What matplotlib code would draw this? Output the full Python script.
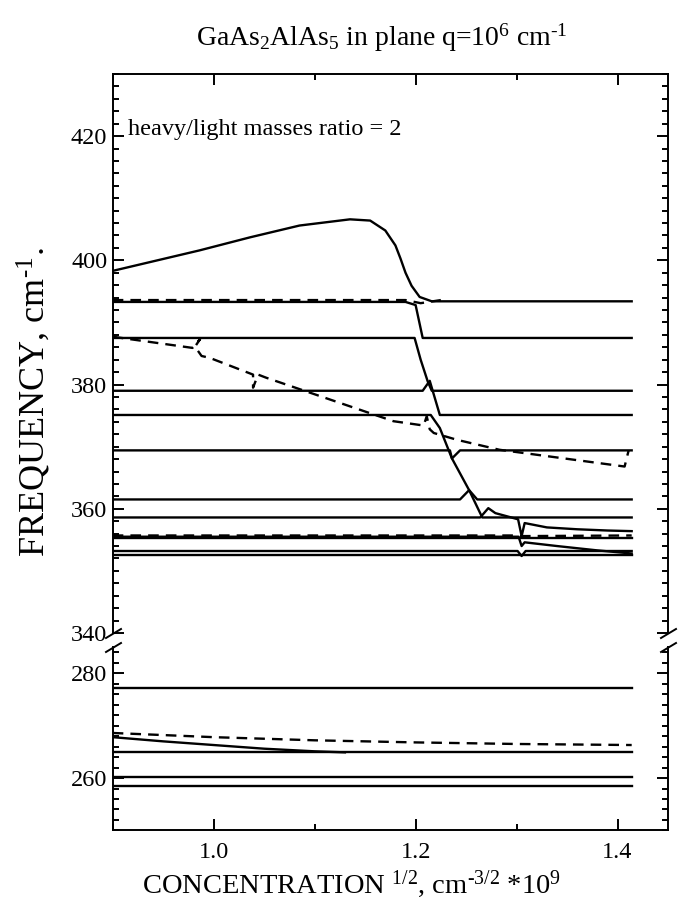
import matplotlib
matplotlib.use("Agg")
import matplotlib.pyplot as plt
import numpy as np

plt.rcParams['font.family'] = ['Liberation Serif', 'DejaVu Serif']
plt.rcParams['mathtext.fontset'] = 'custom'
plt.rcParams['mathtext.rm'] = 'Liberation Serif'
plt.rcParams['mathtext.it'] = 'Liberation Serif:italic'

# ---- data (x = sqrt(concentration)*1e-9, y = frequency, cm^-1)
x_end = 1.414

# upper panel, solid branches
s0_x = [0.9, 0.986, 1.036, 1.085, 1.135, 1.155, 1.17, 1.18, 1.185, 1.19, 1.196, 1.204, 1.216, x_end]
s0_y = [398.3, 401.6, 403.7, 405.6, 406.6, 406.4, 404.8, 402.4, 400.3, 398.0, 395.9, 394.1, 393.4, 393.4]
s1_x = [0.9, 1.19, 1.2, 1.207, x_end]
s1_y = [393.3, 393.3, 392.8, 387.5, 387.5]
s2_x = [0.9, 1.199, 1.205, 1.212, 1.216, x_end]
s2_y = [387.5, 387.5, 384.0, 380.5, 379.0, 379.0]
s3_x = [0.9, 1.207, 1.214, 1.224, x_end]
s3_y = [379.0, 379.0, 380.6, 375.1, 375.1]
s4_x = [0.9, 1.215, 1.224, 1.236, 1.244, x_end]
s4_y = [375.1, 375.1, 373.0, 368.1, 369.4, 369.4]
s5_x = [0.9, 1.234, 1.236, 1.253, 1.261, x_end]
s5_y = [369.4, 369.4, 368.1, 363.0, 361.5, 361.5]
s6_x = [0.9, 1.244, 1.253, 1.266, x_end]
s6_y = [361.5, 361.5, 363.0, 358.6, 358.6]
s7_x = [0.9, 1.264, 1.272, 1.279, 1.3015, 1.305, 1.308, 1.33, 1.36, 1.39, x_end]
s7_y = [358.6, 358.6, 360.1, 359.3, 358.3, 355.6, 357.7, 357.0, 356.7, 356.5, 356.4]
s8_x = [0.9, 1.302, 1.305, 1.308, 1.34, 1.38, x_end]
s8_y = [355.5, 355.5, 354.0, 354.6, 354.0, 353.3, 352.8]
s9_x = [0.9, x_end]
s9_y = [355.3, 355.3]
s10_x = [0.9, 1.301, 1.305, 1.309, x_end]
s10_y = [353.2, 353.2, 352.4, 353.2, 353.2]
s11_x = [0.9, x_end]
s11_y = [352.6, 352.6]
upper_solid = [(s0_x, s0_y), (s1_x, s1_y), (s2_x, s2_y), (s3_x, s3_y), (s4_x, s4_y),
               (s5_x, s5_y), (s6_x, s6_y), (s7_x, s7_y), (s8_x, s8_y), (s9_x, s9_y),
               (s10_x, s10_y), (s11_x, s11_y)]

# upper panel, dashed branches
d1_x = [0.9, 1.19, 1.205, 1.225]
d1_y = [393.6, 393.6, 393.1, 393.6]
d2_x = [0.9, 0.979, 0.9865, 0.9815, 0.988, 0.996, 1.039, 1.039, 1.044, 1.052, 1.178,
        1.208, 1.211, 1.214, 1.218, 1.241, 1.283, 1.407, 1.411]
d2_y = [387.7, 385.9, 387.3, 386.1, 384.6, 384.3, 381.6, 379.5, 381.6, 381.1, 374.1,
        373.4, 374.9, 372.8, 372.2, 371.1, 369.5, 366.8, 369.4]
d3_x = [0.9, 1.302, 1.306, x_end]
d3_y = [355.7, 355.7, 355.6, 355.7]
upper_dashed = [(d1_x, d1_y), (d2_x, d2_y), (d3_x, d3_y)]

# lower panel
b_line_x = [0.9, x_end]
b_solid_levels = [277.2, 264.9, 260.2, 258.5]
b_curve_x = [0.9, 0.95, 1.0, 1.05, 1.1, 1.13]
b_curve_y = [267.8, 267.0, 266.3, 265.6, 265.1, 264.9]
b_dash_x = [0.9, 1.0, 1.1, 1.2, 1.3, x_end]
b_dash_y = [268.6, 267.8, 267.2, 266.8, 266.5, 266.3]

top_ticks = [340, 360, 380, 400, 420]
bot_ticks = [260, 280]
x_ticks = [1.0, 1.2, 1.4]

fig = plt.figure(figsize=(6.86, 9.10), dpi=100)
ax_t = fig.add_axes([0.1643, 0.3044, 0.8095, 0.6143])
ax_b = fig.add_axes([0.1643, 0.0874, 0.8095, 0.2016])

lw = 1.7
dash = (4.5, 3)
for xs, ys in upper_solid:
    ax_t.plot(xs, ys, color='black', lw=lw)
for xs, ys in upper_dashed:
    ax_t.plot(xs, ys, color='black', lw=lw, dashes=dash)

for lev in b_solid_levels:
    ax_b.plot(b_line_x, [lev, lev], color='black', lw=lw)
ax_b.plot(b_curve_x, b_curve_y, color='black', lw=lw)
ax_b.plot(b_dash_x, b_dash_y, color='black', lw=lw, dashes=dash)

ax_t.set_ylim(340, 430)
ax_b.set_ylim(250, 285)
for ax in (ax_t, ax_b):
    ax.set_xlim(0.9, 1.45)
    ax.set_xticks(x_ticks)
    ax.set_xticks([0.9, 1.1, 1.3], minor=True)
    for sp in ax.spines.values():
        sp.set_linewidth(1.4)
    ax.tick_params(which='both', direction='in', left=True, right=True,
                   labelsize=17.5, width=1.4)
    ax.tick_params(axis='y', pad=4)
    ax.tick_params(axis='x', pad=8)
    ax.tick_params(which='major', length=8)
    ax.tick_params(which='minor', length=4.5)

ax_t.set_yticks(top_ticks)
ax_t.set_yticks(np.arange(340, 431, 2), minor=True)
ax_b.set_yticks(bot_ticks)
ax_b.set_yticks(np.arange(250, 286, 2), minor=True)

ax_t.spines['bottom'].set_visible(False)
ax_b.spines['top'].set_visible(False)
ax_t.tick_params(which='both', top=True, bottom=False, labelbottom=False)
ax_b.tick_params(which='both', top=False, bottom=True)
ax_b.set_xticklabels(['1.0', '1.2', '1.4'])

# break marks
kw = dict(marker=[(-1, -0.6), (1, 0.6)], markersize=12, linestyle='none',
          color='black', mec='black', mew=1.4, clip_on=False)
ax_t.plot([0, 1], [0, 0], transform=ax_t.transAxes, **kw)
ax_b.plot([0, 1], [1, 1], transform=ax_b.transAxes, **kw)

ax_t.text(0.027, 0.9, 'heavy/light masses ratio = 2', transform=ax_t.transAxes,
          fontsize=17.5, va='center', ha='left')

fig.text(0.556, 0.958, r'GaAs$_2$AlAs$_5$ in plane q=10$^6$ cm$^{\text{-}1}$',
         ha='center', va='center', fontsize=20)
fig.text(0.513, 0.028, r'CONCENTRATION $^{1/2}$, cm$^{\text{-}3/2}$ *10$^9$',
         ha='center', va='center', fontsize=20.5)
fig.text(0.05, 0.558, r'FREQUENCY, cm$^{\text{-}1}$.', rotation=90,
         ha='center', va='center', fontsize=26)

fig.savefig('out.png', dpi=100)
